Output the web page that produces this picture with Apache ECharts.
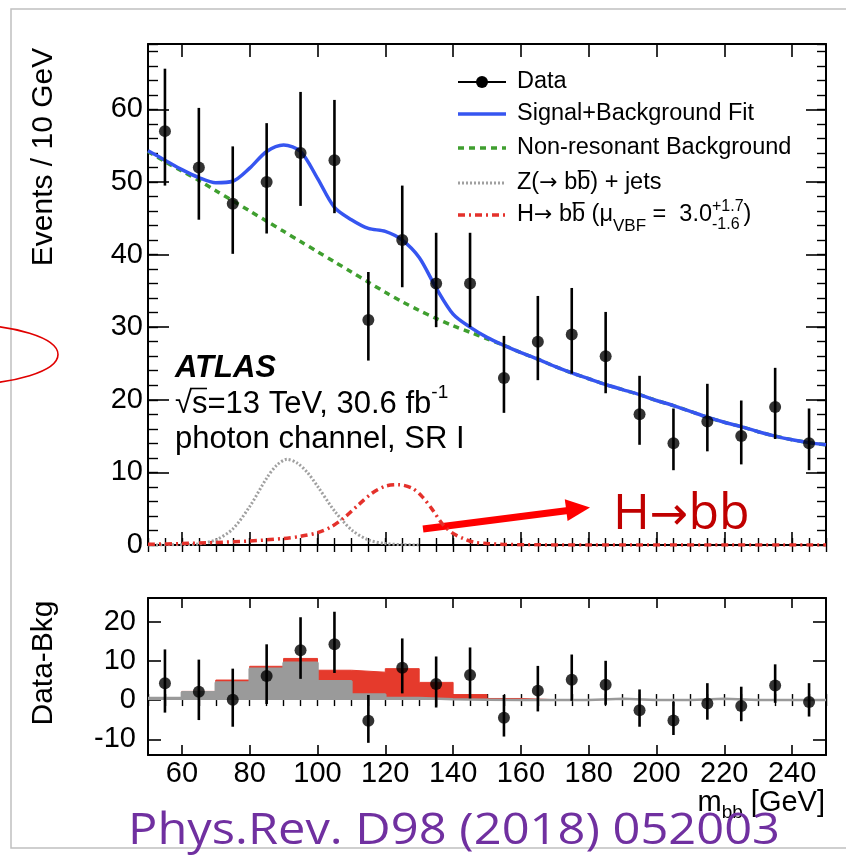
<!DOCTYPE html>
<html lang="en">
<head>
<meta charset="UTF-8">
<title>VBF H to bb, photon channel</title>
<script src="https://cdn.jsdelivr.net/npm/echarts@6/dist/echarts.min.js"></script>
<style>
  html, body { margin: 0; padding: 0; background: #fff; }
  #chart { width: 846px; height: 865px; }
</style>
</head>
<body>
<div id="chart"></div>
<script>
// ---- data ----
var binCentres = [55, 65, 75, 85, 95, 105, 115, 125, 135, 145, 155, 165, 175, 185, 195, 205, 215, 225, 235, 245];
var binEdges = [50, 60, 70, 80, 90, 100, 110, 120, 130, 140, 150, 160, 170, 180, 190, 200, 210, 220, 230, 240, 250];
var dataEvents = [57, 52, 47, 50, 54, 53, 31, 42, 36, 36, 23, 28, 29, 26, 18, 14, 17, 15, 19, 14];
var errUp = [8.6, 8.2, 7.9, 8.1, 8.4, 8.3, 6.6, 7.5, 7.0, 7.0, 5.8, 6.3, 6.4, 6.1, 5.3, 4.8, 5.2, 4.9, 5.4, 4.8];
var errDn = [7.5, 7.2, 6.9, 7.1, 7.3, 7.3, 5.6, 6.5, 6.0, 6.0, 4.8, 5.3, 5.4, 5.1, 4.2, 3.7, 4.1, 3.9, 4.4, 3.7];
var dataMinusBkg = [4.3, 2.1, 0.1, 6.1, 12.7, 14.2, -5.3, 8.2, 4.1, 6.4, -4.5, 2.4, 5.2, 3.9, -2.6, -5.2, -0.9, -1.5, 3.7, -0.5];
var zResidual = [0.5, 2.0, 4.5, 8.0, 9.5, 4.8, 1.4, 0.5, 0.2, 0.1, 0, 0, 0, 0.3, 0, 0, 0.3, 0, 0, 0];
var zhResidual = [0.6, 2.2, 5.1, 8.6, 10.6, 7.6, 7.1, 8.0, 4.5, 1.4, 0.4, 0.1, 0, 0.3, 0, 0, 0.3, 0, 0, 0];

// fitted curves, sampled every 5 GeV
var curveX = [50, 55, 60, 65, 70, 75, 80, 85, 90, 95, 100, 105, 110, 115, 120, 125, 130, 135, 140, 145,
  150, 155, 160, 165, 170, 175, 180, 185, 190, 195, 200, 205, 210, 215, 220, 225, 230, 235, 240, 245, 250];
var bkgCurve = [54.2, 52.8, 51.5, 50.2, 48.8, 47.4, 46.0, 44.6, 43.2, 41.8, 40.4, 39.0, 37.6, 36.2, 34.8, 33.5, 32.3, 31.2, 30.2, 29.3,
  28.4, 27.5, 26.5, 25.6, 24.6, 23.7, 22.9, 22.1, 21.4, 20.7, 19.9, 19.2, 18.4, 17.6, 16.9, 16.3, 15.6, 15.0, 14.5, 14.1, 13.8];
var fitCurve = [54.3, 53.0, 51.7, 50.6, 49.9, 50.1, 51.9, 54.2, 55.1, 54.2, 50.5, 46.5, 44.8, 43.6, 43.2, 42.0, 39.6, 35.4, 31.8, 30.0,
  28.6, 27.5, 26.5, 25.6, 24.6, 23.7, 22.9, 22.1, 21.4, 20.7, 19.9, 19.2, 18.4, 17.6, 16.9, 16.3, 15.6, 15.0, 14.5, 14.1, 13.8];
var zCurveX = [50, 55, 60, 65, 70, 75, 80, 85, 88, 91, 94, 97, 100, 105, 110, 115, 120, 125, 130];
var zCurveY = [0, 0.02, 0.04, 0.16, 0.7, 2.2, 5.3, 9.2, 11.0, 11.8, 11.3, 10.0, 8.1, 4.7, 2.1, 0.7, 0.2, 0.05, 0];
var hCurveX = [50, 60, 70, 80, 90, 95, 100, 104, 108, 112, 116, 120, 124, 128, 131, 134, 137, 140, 143, 146, 150, 155, 165, 180, 250];
var hCurveY = [0.1, 0.2, 0.35, 0.55, 0.9, 1.2, 1.7, 2.5, 3.8, 5.5, 7.1, 8.1, 8.3, 7.8, 6.6, 4.8, 2.8, 1.6, 0.9, 0.4, 0.2, 0.08, 0.02, 0, 0];

var xTicks = [60, 80, 100, 120, 140, 160, 180, 200, 220, 240];
var yTicks = [0, 10, 20, 30, 40, 50, 60];
var resTicks = [-10, 0, 10, 20];

var FONT = '"Liberation Sans", Arial, Helvetica, sans-serif';
var ARROW_FONT = '"DejaVu Sans", sans-serif';
var SLIDE_FONT = '"Open Sans", sans-serif';

function pairs(xs, ys) {
  return xs.map(function (x, i) { return [x, ys[i]]; });
}
function steps(edges, vals) {
  var out = vals.map(function (v, i) { return [edges[i], v]; });
  out.push([edges[edges.length - 1], vals[vals.length - 1]]);
  return out;
}
function errRows(vals) {
  return binCentres.map(function (x, i) { return [x, vals[i] - errDn[i], vals[i] + errUp[i]]; });
}
function errorBar(params, api) {
  var a = api.coord([api.value(0), api.value(1)]);
  var b = api.coord([api.value(0), api.value(2)]);
  return { type: 'line', shape: { x1: a[0], y1: a[1], x2: b[0], y2: b[1] }, style: { stroke: '#000', lineWidth: 2.6 } };
}

// axes: a framed axis with major ticks, plus a bare one carrying minor ticks
function frameAxis(grid, pos, min, max, len, ticks, labels, margin) {
  return {
    type: 'value', gridIndex: grid, position: pos, min: min, max: max,
    axisLine: { show: true, onZero: false, lineStyle: { color: '#000', width: 2 } },
    axisTick: { show: true, inside: true, length: len, customValues: ticks, lineStyle: { color: '#000', width: 1.6 } },
    axisLabel: { show: labels, customValues: ticks, color: '#000', fontSize: 29, fontFamily: FONT, margin: margin || 5 },
    splitLine: { show: false }
  };
}
function minorAxis(grid, pos, min, max, step, len) {
  return {
    type: 'value', gridIndex: grid, position: pos, min: min, max: max, interval: step,
    axisLine: { show: false }, axisLabel: { show: false }, splitLine: { show: false },
    axisTick: { show: true, inside: true, length: len, lineStyle: { color: '#000', width: 1.4 } }
  };
}

// text made of pieces (sub/superscripts, overlines), y is the middle of the line
var mctx = document.createElement('canvas').getContext('2d');
function measure(t, size, weight, style, family) {
  mctx.font = (style || 'normal') + ' ' + (weight || 'normal') + ' ' + size + 'px ' + (family || FONT);
  return mctx.measureText(t).width;
}
function txt(x, y, t, size, extra) {
  extra = extra || {};
  return {
    type: 'text', x: x, y: y, silent: true, rotation: extra.rotation || 0,
    scaleX: extra.scaleX || 1,
    style: {
      text: t, fill: extra.color || '#000', fontSize: size, fontFamily: extra.family || FONT,
      fontWeight: extra.weight || 'normal', fontStyle: extra.style || 'normal',
      align: extra.align || 'left', verticalAlign: 'middle',
      textAlign: extra.align || 'left', textVerticalAlign: 'middle',
      shadowColor: extra.shadow ? 'rgba(0,0,0,0.35)' : null, shadowBlur: extra.shadow ? 2 : 0,
      shadowOffsetX: extra.shadow ? 2 : 0, shadowOffsetY: extra.shadow ? 2 : 0
    }
  };
}
function run(x, y, parts) {
  var els = [];
  parts.forEach(function (p) {
    var size = p.size || 23.5;
    var lines = p.stack || [p.t];
    var dys = p.dys || [p.dy || 0];
    var w = 0;
    lines.forEach(function (t, k) {
      els.push(txt(x, y + dys[k], t, size, p));
      w = Math.max(w, measure(t, size, p.weight, p.style, p.family));
    });
    if (p.over) {
      var oy = y + (p.dy || 0) - size * p.over;
      els.push({ type: 'line', silent: true, shape: { x1: x + (p.overFrom || 0.5), y1: oy, x2: x + w - 0.5, y2: oy },
        style: { stroke: '#000', lineWidth: 1.6 } });
    }
    x += w;
  });
  return els;
}
function runWidth(parts) {
  return parts.reduce(function (s, p) {
    var lines = p.stack || [p.t];
    return s + Math.max.apply(null, lines.map(function (t) { return measure(t, p.size || 23.5, p.weight, p.style, p.family); }));
  }, 0);
}

// ---- legend, labels and slide annotations ----
var graphics = [];
// slide frame
graphics.push({ type: 'polyline', silent: true, shape: { points: [[846, 9], [11, 9], [11, 848], [846, 848]] },
  style: { stroke: '#c0c0c0', lineWidth: 1.5, fill: null } });
graphics.push({ type: 'ellipse', silent: true, shape: { cx: -39, cy: 354.5, rx: 97, ry: 30 },
  style: { stroke: '#e00000', lineWidth: 1.6, fill: null } });

// axis titles
graphics.push(txt(44, 157, 'Events / 10 GeV', 30, { rotation: Math.PI / 2, align: 'center' }));
graphics.push(txt(44, 663, 'Data-Bkg', 30, { rotation: Math.PI / 2, align: 'center' }));
var mbbParts = [{ t: 'm', size: 29 }, { t: 'bb', size: 19, dy: 10 }, { t: ' [GeV]', size: 29 }];
graphics = graphics.concat(run(825 - runWidth(mbbParts), 803, mbbParts));

// legend
var legendRows = [82, 114, 148, 183, 215];
graphics.push({ type: 'line', silent: true, shape: { x1: 458, y1: legendRows[0], x2: 506, y2: legendRows[0] }, style: { stroke: '#000', lineWidth: 2 } });
graphics.push({ type: 'circle', silent: true, shape: { cx: 482, cy: legendRows[0], r: 6 }, style: { fill: '#000' } });
graphics.push({ type: 'line', silent: true, shape: { x1: 458, y1: legendRows[1], x2: 506, y2: legendRows[1] }, style: { stroke: '#3655f0', lineWidth: 3.5 } });
graphics.push({ type: 'line', silent: true, shape: { x1: 458, y1: legendRows[2], x2: 506, y2: legendRows[2] }, style: { stroke: '#3f9f2f', lineWidth: 3.5, lineDash: [6, 5] } });
graphics.push({ type: 'line', silent: true, shape: { x1: 458, y1: legendRows[3], x2: 506, y2: legendRows[3] }, style: { stroke: '#a0a0a0', lineWidth: 3, lineDash: [2, 2] } });
graphics.push({ type: 'line', silent: true, shape: { x1: 458, y1: legendRows[4], x2: 506, y2: legendRows[4] }, style: { stroke: '#e4312b', lineWidth: 3.5, lineDash: [7, 4, 2, 4] } });
graphics.push(txt(517, legendRows[0], 'Data', 23.5));
graphics.push(txt(517, legendRows[1], 'Signal+Background Fit', 23.5));
graphics.push(txt(517, legendRows[2], 'Non-resonant Background', 23.5));
graphics = graphics.concat(run(517, legendRows[3], [
  { t: 'Z(' }, { t: '\u2192', family: ARROW_FONT, size: 22 }, { t: ' b' }, { t: 'b', over: 0.52 }, { t: ') + jets' }
]));
graphics = graphics.concat(run(517, legendRows[4], [
  { t: 'H' }, { t: '\u2192', family: ARROW_FONT, size: 22 }, { t: ' b' }, { t: 'b', over: 0.52 }, { t: ' (\u03bc' },
  { t: 'VBF', size: 17, dy: 11 }, { t: ' =  3.0' }, { stack: ['+1.7', '-1.6'], dys: [-8, 10], size: 16 }, { t: ')' }
]));

// experiment label
graphics.push(txt(175, 368, 'ATLAS', 31, { weight: 'bold', style: 'italic' }));
graphics = graphics.concat(run(175, 404, [
  { t: '\u221a', size: 31 }, { t: 's', size: 31, over: 0.5, overFrom: -2 },
  { t: '=13 TeV, 30.6 fb', size: 31 }, { t: '-1', size: 19, dy: -11 }
]));
graphics.push(txt(175, 439, 'photon channel, SR I', 31));

// slide annotations
graphics.push({ type: 'line', silent: true, shape: { x1: 423, y1: 529, x2: 572, y2: 510 }, style: { stroke: '#ff0000', lineWidth: 7 } });
graphics.push({ type: 'polygon', silent: true, shape: { points: [[590, 507.5], [564.8, 499.2], [567.6, 521]] }, style: { fill: '#ff0000' } });
var hbbStyle = { family: SLIDE_FONT, color: '#c00000', shadow: true, size: 50 };
graphics = graphics.concat(run(613, 515, [
  Object.assign({ t: 'H' }, hbbStyle),
  Object.assign({}, hbbStyle, { t: '\u2192', family: ARROW_FONT, size: 46, dy: 2 }),
  Object.assign({ t: 'bb' }, hbbStyle)
]));
var refW = measure('Phys.Rev. D98 (2018) 052003', 44, 'normal', 'normal', SLIDE_FONT);
graphics.push(txt(128, 831, 'Phys.Rev. D98 (2018) 052003', 44, { family: SLIDE_FONT, color: '#7030a0', shadow: true, scaleX: 652 / refW }));

var chart = echarts.init(document.getElementById('chart'));
chart.setOption({
  animation: false,
  backgroundColor: '#fff',
  grid: [
    { left: 148, right: 20, top: 44, height: 501, outerBoundsMode: 'none' },
    { left: 148, right: 20, top: 598, height: 157, outerBoundsMode: 'none' }
  ],
  xAxis: [
    frameAxis(0, 'bottom', 50, 250, 13, xTicks, false),
    minorAxis(0, 'bottom', 50, 250, 5, 7),
    frameAxis(0, 'top', 50, 250, 13, xTicks, false),
    minorAxis(0, 'top', 50, 250, 5, 7),
    frameAxis(1, 'bottom', 50, 250, 10, xTicks, true, 4),
    minorAxis(1, 'bottom', 50, 250, 5, 6),
    frameAxis(1, 'top', 50, 250, 10, xTicks, false),
    minorAxis(1, 'top', 50, 250, 5, 6)
  ],
  yAxis: [
    frameAxis(0, 'left', 0, 69, 21, yTicks, true, 5),
    minorAxis(0, 'left', 0, 69, 2, 10),
    frameAxis(0, 'right', 0, 69, 20, yTicks, false),
    minorAxis(0, 'right', 0, 69, 2, 9),
    frameAxis(1, 'left', -14, 26, 13, resTicks, true, 12),
    frameAxis(1, 'right', -14, 26, 13, resTicks, false)
  ],
  series: [
    { type: 'line', xAxisIndex: 0, yAxisIndex: 0, data: pairs(curveX, bkgCurve), smooth: 0.3, showSymbol: false, symbol: 'none',
      lineStyle: { color: '#3f9f2f', width: 3.5, type: [6, 5] }, z: 3 },
    { type: 'line', xAxisIndex: 0, yAxisIndex: 0, data: pairs(zCurveX, zCurveY), smooth: 0.3, showSymbol: false, symbol: 'none',
      lineStyle: { color: '#a0a0a0', width: 3, type: [2, 2] }, z: 3 },
    { type: 'line', xAxisIndex: 0, yAxisIndex: 0, data: pairs(hCurveX, hCurveY), smooth: 0.3, showSymbol: false, symbol: 'none',
      lineStyle: { color: '#e4312b', width: 3.5, type: [7, 4, 2, 4] }, z: 3 },
    { type: 'line', xAxisIndex: 0, yAxisIndex: 0, data: pairs(curveX, fitCurve), smooth: 0.3, showSymbol: false, symbol: 'none',
      lineStyle: { color: '#3655f0', width: 3.5 }, z: 4 },
    { type: 'custom', xAxisIndex: 0, yAxisIndex: 0, renderItem: errorBar, data: errRows(dataEvents),
      encode: { x: 0, y: [1, 2] }, z: 5 },
    { type: 'scatter', xAxisIndex: 0, yAxisIndex: 0, data: pairs(binCentres, dataEvents), symbolSize: 12,
      itemStyle: { color: '#000' }, z: 6 },

    { type: 'line', xAxisIndex: 4, yAxisIndex: 4, data: steps(binEdges, zhResidual), step: 'end', showSymbol: false, symbol: 'none',
      lineStyle: { color: '#e53a2c', width: 1 }, areaStyle: { color: '#e53a2c', opacity: 1 }, z: 2 },
    { type: 'line', xAxisIndex: 4, yAxisIndex: 4, data: steps(binEdges, zResidual), step: 'end', showSymbol: false, symbol: 'none',
      lineStyle: { color: '#9a9a9a', width: 2.5 }, areaStyle: { color: '#9a9a9a', opacity: 1 }, z: 3 },
    { type: 'custom', xAxisIndex: 4, yAxisIndex: 4, renderItem: errorBar, data: errRows(dataMinusBkg),
      encode: { x: 0, y: [1, 2] }, z: 5 },
    { type: 'scatter', xAxisIndex: 4, yAxisIndex: 4, data: pairs(binCentres, dataMinusBkg), symbolSize: 12,
      itemStyle: { color: '#000' }, z: 6 }
  ],
  graphic: { elements: graphics }
});
</script>
</body>
</html>
